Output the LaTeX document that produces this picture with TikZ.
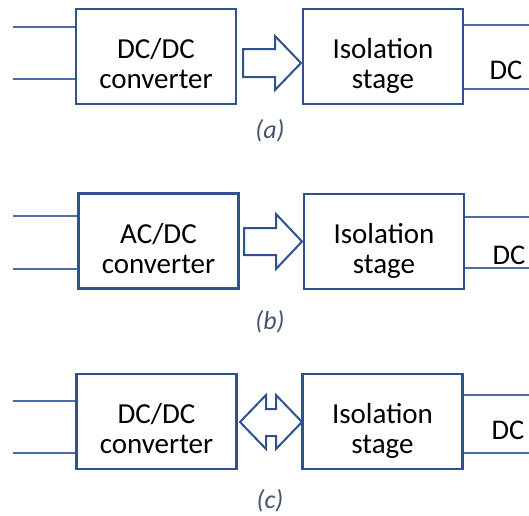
\documentclass[tikz,border=0pt]{standalone}
\usepackage{fontspec}
\setmainfont{Carlito}
\definecolor{boxblue}{HTML}{2F528F}
\definecolor{wireblue}{HTML}{4A6FA8}
\definecolor{capgray}{HTML}{44546A}
\begin{document}
\begin{tikzpicture}[x=1pt,y=-1pt,
  block/.style={draw=boxblue, line width=2.2pt, minimum width=160pt, minimum height=95pt,
    inner sep=0pt, align=center, font=\fontsize{29}{30}\selectfont,
    execute at begin node=\rule{0pt}{72pt}, execute at end node=\rule[-8pt]{0pt}{0pt}},
  wire/.style={draw=wireblue, line width=2pt},
  blockarrow/.style={draw=boxblue, line width=2pt, line join=miter, fill=white},
  caption/.style={font=\fontsize{26}{26}\selectfont\itshape, text=capgray, inner sep=0pt},
  outlabel/.style={font=\fontsize{28.5}{28.5}\selectfont, inner sep=0pt}]
\useasboundingbox[fill=white] (0,0) rectangle (529,515);

% ---------- (a) DC/DC converter -> isolation stage ----------
\node[block] (a1) at (156,56.5) {DC/DC\\converter};
\node[block] (a2) at (383,56.5) {Isolation\\stage};
\coordinate (ain1) at (13,27);
\coordinate (ain2) at (13,79);
\coordinate (aout1) at (529,25);
\coordinate (aout2) at (529,89);
\draw[wire] (ain1) -- (ain1 -| a1.west);
\draw[wire] (ain2) -- (ain2 -| a1.west);
\draw[wire] (aout1 -| a2.east) -- (aout1);
\draw[wire] (aout2 -| a2.east) -- (aout2);
\node[outlabel] (adc) at (506,70) {DC};
\draw[blockarrow] (243,49) -- (275,49) -- (275,36) -- (301,63) -- (275,90) -- (275,77) -- (243,77) -- cycle;
\node[caption] (acap) at (270,131) {(a)};

% ---------- (b) AC/DC converter -> isolation stage ----------
\node[block] (b1) at (158.5,241) {AC/DC\\converter};
\node[block] (b2) at (384,241.5) {Isolation\\stage};
\coordinate (bin1) at (13,216);
\coordinate (bin2) at (13,269);
\coordinate (bout1) at (529,217);
\coordinate (bout2) at (529,268);
\draw[wire] (bin1) -- (bin1 -| b1.west);
\draw[wire] (bin2) -- (bin2 -| b1.west);
\draw[wire] (bout1 -| b2.east) -- (bout1);
\draw[wire] (bout2 -| b2.east) -- (bout2);
\node[outlabel] (bdc) at (509,255) {DC};
\draw[blockarrow] (244,228) -- (276,228) -- (276,214) -- (302,241.5) -- (276,269) -- (276,255) -- (244,255) -- cycle;
\node[caption] (bcap) at (270,322) {(b)};

% ---------- (c) bidirectional DC/DC converter <-> isolation stage ----------
\node[block] (c1) at (156.5,421.5) {DC/DC\\converter};
\node[block] (c2) at (382.5,421.5) {Isolation\\stage};
\coordinate (cin1) at (13,401);
\coordinate (cin2) at (13,453);
\coordinate (cout1) at (529,395);
\coordinate (cout2) at (529,453);
\draw[wire] (cin1) -- (cin1 -| c1.west);
\draw[wire] (cin2) -- (cin2 -| c1.west);
\draw[wire] (cout1 -| c2.east) -- (cout1);
\draw[wire] (cout2 -| c2.east) -- (cout2);
\node[outlabel] (cdc) at (508,430) {DC};
\draw[blockarrow] (240,422) -- (266,395) -- (266,409) -- (276,409) -- (276,395) -- (302,422)
  -- (276,449) -- (276,436) -- (266,436) -- (266,449) -- cycle;
\node[caption] (ccap) at (270,501) {(c)};
\end{tikzpicture}
\end{document}
